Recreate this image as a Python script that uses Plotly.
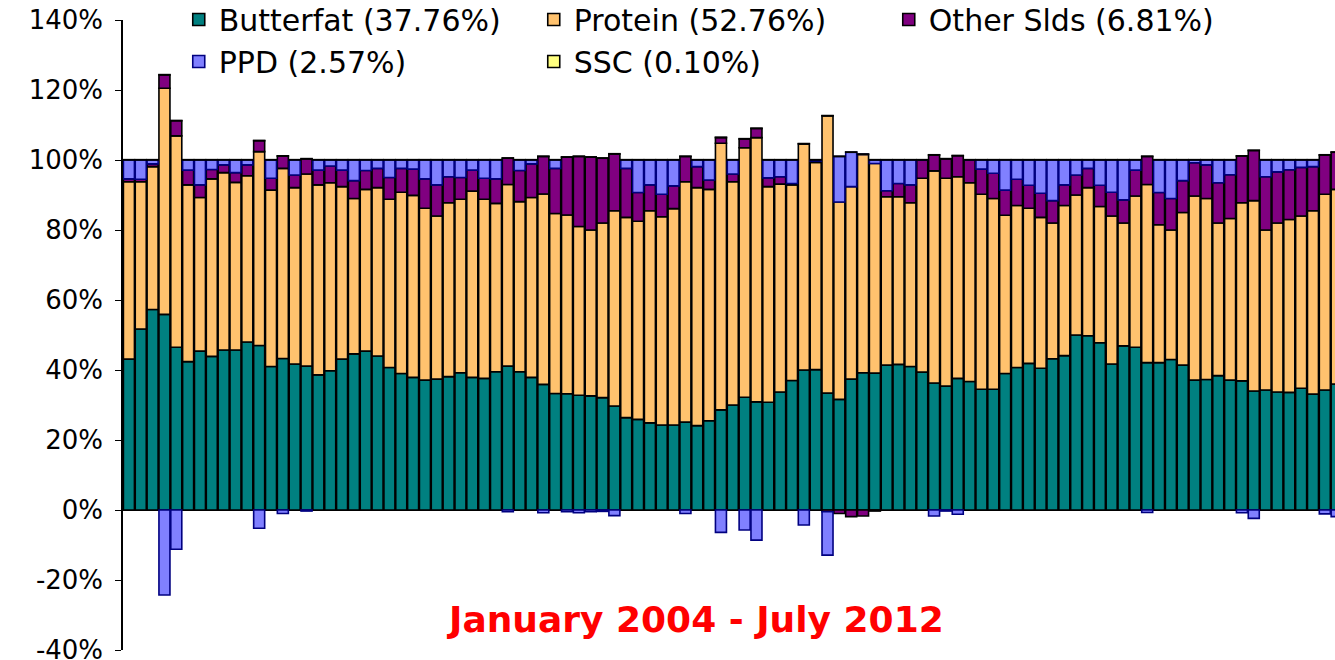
import plotly.graph_objects as go
import pandas as pd

# Monthly categories: January 2004 - July 2012
months = pd.date_range("2004-01-01", "2012-07-01", freq="MS").strftime("%b %Y").tolist()

butterfat = [
    43.1, 51.7, 57.3, 55.9, 46.5, 42.4, 45.4, 43.9, 45.7, 45.7,
    48.0, 47.0, 41.0, 43.3, 41.7, 41.1, 38.6, 39.8, 43.1, 44.6,
    45.4, 44.0, 40.7, 39.0, 37.9, 37.1, 37.4, 38.1, 39.2, 37.9,
    37.6, 39.5, 41.1, 39.5, 37.9, 35.9, 33.3, 33.2, 32.8, 32.6,
    32.1, 29.7, 26.4, 25.9, 24.9, 24.3, 24.3, 25.1, 24.1, 25.5,
    28.6, 30.0, 32.2, 30.9, 30.8, 33.7, 37.0, 40.0, 40.1, 33.4,
    31.6, 37.4, 39.2, 39.1, 41.4, 41.6, 41.0, 39.4, 36.3, 35.4,
    37.6, 36.7, 34.5, 34.5, 39.0, 40.7, 41.9, 40.5, 43.2, 44.1,
    50.0, 49.8, 47.8, 41.7, 46.9, 46.5, 42.1, 42.1, 43.0, 41.4,
    37.1, 37.3, 38.4, 37.1, 36.9, 34.0, 34.3, 33.7, 33.6, 34.8,
    33.1, 34.3, 36.0,
]

protein = [
    50.7, 42.1, 40.8, 64.6, 60.4, 50.5, 43.9, 50.7, 50.7, 47.9,
    47.5, 55.4, 50.4, 54.3, 50.4, 54.9, 54.3, 53.7, 49.3, 44.4,
    46.2, 48.1, 48.1, 51.8, 52.0, 49.1, 46.6, 49.7, 49.6, 53.2,
    51.2, 48.1, 51.9, 48.6, 51.4, 54.4, 51.4, 51.1, 48.2, 47.4,
    49.9, 55.8, 57.2, 56.6, 60.6, 59.5, 61.8, 68.7, 68.0, 66.1,
    76.2, 63.8, 71.3, 75.5, 61.6, 59.4, 55.9, 64.6, 59.2, 79.2,
    56.4, 55.0, 62.4, 59.9, 48.1, 47.9, 46.8, 55.4, 60.6, 59.4,
    57.6, 56.8, 55.7, 54.5, 45.2, 46.3, 44.3, 43.1, 38.8, 42.9,
    40.0, 42.3, 38.9, 42.3, 35.1, 43.2, 50.9, 39.4, 37.0, 43.6,
    52.6, 51.7, 43.6, 46.2, 50.9, 54.4, 45.7, 48.3, 49.4, 49.2,
    52.4, 55.9, 55.6,
]

other_solids = [
    0.8, 0.7, 0.8, 3.8, 4.3, 4.2, 3.6, 2.7, 2.2, 2.8,
    3.1, 3.1, 3.4, 3.5, 3.6, 4.3, 4.2, 4.8, 4.7, 5.1,
    5.4, 5.5, 6.2, 6.8, 7.5, 8.4, 8.9, 7.4, 6.2, 6.0,
    6.0, 7.0, 7.5, 8.9, 9.6, 10.7, 12.9, 16.5, 20.0, 20.8,
    18.5, 16.2, 14.0, 8.2, 7.4, 6.4, 6.5, 7.2, 6.0, 2.7,
    1.6, 2.2, 2.5, 2.6, 2.5, 2.1, 0.4, 0.0, 0.4, -0.5,
    -1.0, -1.9, -1.7, -0.3, 1.7, 3.8, 5.1, 5.2, 4.5, 5.5,
    6.0, 6.5, 7.2, 7.2, 7.2, 7.5, 6.6, 6.9, 6.4, 5.9,
    5.7, 5.5, 6.1, 6.8, 6.6, 7.4, 8.0, 9.2, 9.0, 9.1,
    9.5, 9.6, 11.5, 12.5, 13.3, 14.3, 15.2, 14.6, 14.2, 13.9,
    12.6, 11.2, 10.6,
]

ppd = [
    5.4, 5.5, 1.1, -24.3, -11.2, 2.9, 7.1, 2.7, 1.4, 3.6,
    1.4, -5.2, 5.2, -1.0, 4.3, -0.3, 2.9, 1.7, 2.9, 5.9,
    3.0, 2.4, 5.0, 2.4, 2.6, 5.4, 7.1, 4.8, 5.0, 2.9,
    5.2, 5.4, -0.5, 3.0, 1.1, -0.8, 2.4, -0.5, -0.8, -0.5,
    -0.4, -1.6, 2.4, 9.3, 7.1, 9.8, 7.4, -1.0, 1.9, 5.7,
    -6.4, 4.0, -5.7, -8.6, 5.1, 4.8, 6.7, -4.3, 0.3, -12.4,
    13.0, 9.8, 0.0, 1.0, 8.8, 6.7, 7.1, 0.0, -1.7, -0.3,
    -1.2, 0.0, 2.6, 3.8, 8.6, 5.5, 7.2, 9.5, 11.6, 7.1,
    4.3, 2.4, 7.2, 9.2, 11.4, 2.9, -0.7, 9.3, 11.0, 5.9,
    0.8, 1.4, 6.5, 4.2, -0.8, -2.4, 4.8, 3.4, 2.8, 2.1,
    1.9, -1.1, -1.9,
]

ssc = [
    0.1, 0.1, 0.1, 0.1, 0.1, 0.1, 0.1, 0.1, 0.1, 0.1,
    0.1, 0.1, 0.1, 0.1, 0.1, 0.1, 0.1, 0.1, 0.1, 0.1,
    0.1, 0.1, 0.1, 0.1, 0.1, 0.1, 0.1, 0.1, 0.1, 0.1,
    0.1, 0.1, 0.1, 0.1, 0.1, 0.1, 0.1, 0.1, 0.1, 0.1,
    0.1, 0.1, 0.1, 0.1, 0.1, 0.1, 0.1, 0.1, 0.1, 0.1,
    0.1, 0.1, 0.1, 0.1, 0.1, 0.1, 0.1, 0.1, 0.1, 0.1,
    0.1, 0.1, 0.1, 0.1, 0.1, 0.1, 0.1, 0.1, 0.1, 0.1,
    0.1, 0.1, 0.1, 0.1, 0.1, 0.1, 0.1, 0.1, 0.1, 0.1,
    0.1, 0.1, 0.1, 0.1, 0.1, 0.1, 0.1, 0.1, 0.1, 0.1,
    0.1, 0.1, 0.1, 0.1, 0.1, 0.1, 0.1, 0.1, 0.1, 0.1,
    0.1, 0.1, 0.1,
]

series_names = ["Butterfat (37.76%)", "Protein (52.76%)", "Other Slds (6.81%)",
                "PPD (2.57%)", "SSC (0.10%)"]
series_values = [butterfat, protein, other_solids, ppd, ssc]
fill_colors = ["#008080", "#FFC26E", "#800080", "#8080FF", "#FFFF80"]
line_colors = ["#000000", "#000000", "#000000", "#000080", "#000000"]

y_ticks = [-40, -20, 0, 20, 40, 60, 80, 100, 120, 140]
y_tick_labels = [f"{v}%" for v in y_ticks]

fig = go.Figure()
for name, vals, fc, lc in zip(series_names, series_values, fill_colors, line_colors):
    fig.add_trace(go.Bar(
        x=months, y=vals, name=name,
        marker=dict(color=fc, line=dict(color=lc, width=1.6)),
    ))

FONT = "DejaVu Sans"
fig.update_layout(
    width=1335, height=660,
    barmode="relative", bargap=0.07,
    plot_bgcolor="white", paper_bgcolor="white",
    margin=dict(l=123, r=0, t=20, b=10, autoexpand=False),
    font=dict(family=FONT, color="black"),
    legend=dict(
        orientation="h", x=0.046, y=1.042, xanchor="left", yanchor="top",
        font=dict(family=FONT, size=30, color="black"),
        entrywidth=310, traceorder="normal",
        bgcolor="rgba(0,0,0,0)", itemwidth=30,
    ),
    xaxis=dict(
        type="category", range=[-0.5, 101.86],
        showticklabels=False, ticks="", showgrid=False,
        showline=False, zeroline=False,
    ),
    yaxis=dict(
        range=[-40, 140], tickvals=y_ticks, ticktext=y_tick_labels,
        tickfont=dict(family=FONT, size=26, color="black"),
        ticks="outside", ticklen=6, tickcolor="black", tickwidth=1,
        showline=True, linecolor="black", linewidth=1.5,
        showgrid=False, zeroline=True, zerolinecolor="black", zerolinewidth=2,
        ticklabelstandoff=7, ticklabeloverflow="allow",
    ),
    annotations=[dict(
        text="<b>January 2004 - July 2012</b>", x=0.472, y=0.048,
        xref="paper", yref="paper", xanchor="center", yanchor="middle",
        showarrow=False, font=dict(family=FONT, size=36, color="#FF0000"),
    )],
)

# remove the default page margin so the 1335x660 figure fills the window exactly
fig.write_html("out.html", config={"displayModeBar": False},
               post_script="document.body.style.margin='0';")
